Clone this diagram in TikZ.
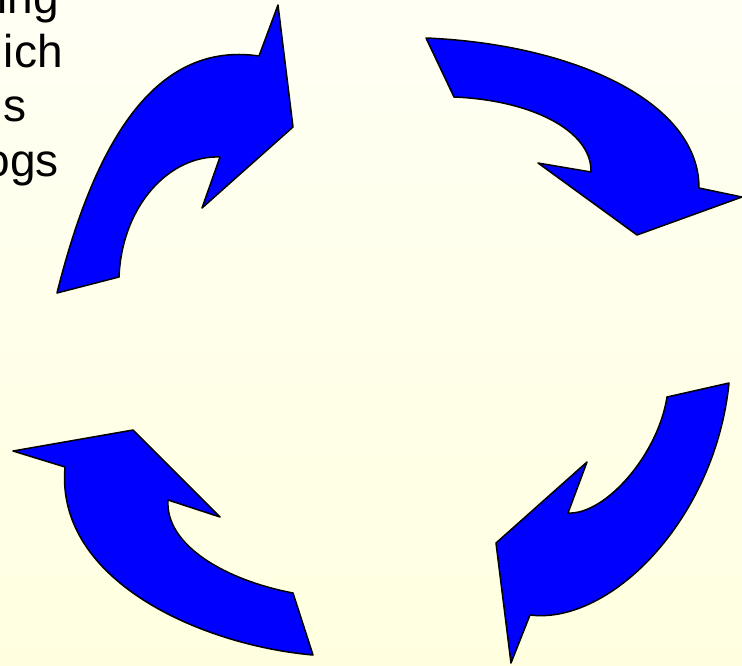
\documentclass[tikz,border=0pt]{standalone}
\usepackage{fontspec}
\setmainfont{Liberation Sans}
\usepackage{xcolor}
\usepackage{tikz}
\usetikzlibrary{calc}

\definecolor{arrowblue}{HTML}{0000FF}
\definecolor{paletop}{HTML}{FFFFF4}
\definecolor{palebottom}{HTML}{FFFFE0}

\tikzset{
  cyclearrow/.style={fill=arrowblue, draw=black, line width=1.5pt, line join=round},
  slidetext/.style={anchor=base east, font=\fontsize{46}{55}\selectfont, inner sep=0pt}
}

\begin{document}
\begin{tikzpicture}[x=1pt, y=-1pt]
  % Page and background
  \useasboundingbox (0,0) rectangle (742,665);
  \clip (0,0) rectangle (742,665);
  \shade[top color=paletop, bottom color=palebottom] (0,0) rectangle (742,665);

  % Text lines, cut at the left edge
  \node[slidetext] (lineA) at (59,13) {ing};
  \node[slidetext] (lineB) at (63,67) {ich};
  \node[slidetext] (lineC) at (27,121) {s};
  \node[slidetext] (lineD) at (59,176) {ogs};

  % Top-left arrow
  \filldraw[cyclearrow] (57,293)
    .. controls (92,153) and (150,40) .. (259,56)
    -- (278,5) -- (293,127) -- (202,208) -- (220,157)
    .. controls (170,155) and (122,205) .. (119,277)
    -- cycle;

  % Top-right arrow
  \filldraw[cyclearrow] (426,38)
    .. controls (570,44) and (699,100) .. (699,188)
    -- (742,197) -- (637,235) -- (538,163) -- (591,172)
    .. controls (592,130) and (530,100) .. (454,97)
    -- cycle;

  % Bottom-right arrow
  \filldraw[cyclearrow] (729,383)
    .. controls (715,520) and (610,625) .. (530,615)
    -- (511,663) -- (496,543) -- (587,462) -- (568,513)
    .. controls (605,515) and (658,455) .. (667,397)
    -- cycle;

  % Bottom-left arrow
  \filldraw[cyclearrow] (313,655)
    .. controls (200,645) and (55,580) .. (65,467)
    -- (13,451) -- (133,430) -- (220,517) -- (168,500)
    .. controls (165,545) and (225,580) .. (293,593)
    -- cycle;
\end{tikzpicture}
\end{document}
